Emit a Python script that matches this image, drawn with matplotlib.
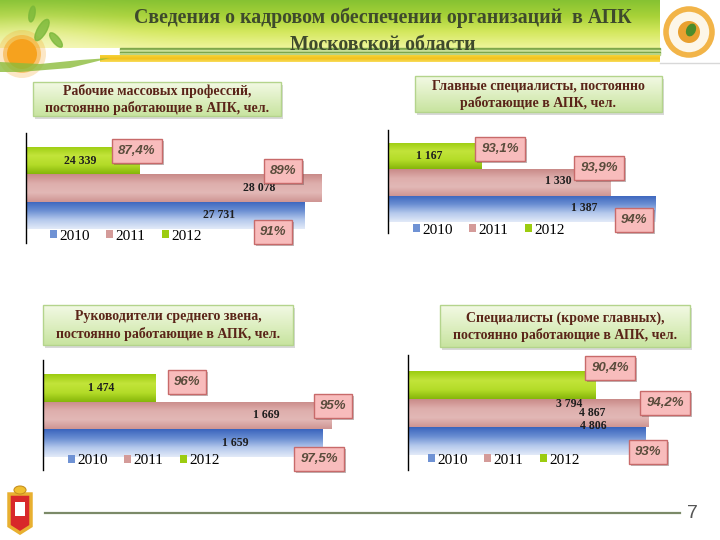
"""Slide: staffing of agro-industrial organisations, Moscow region (4 bar panels)."""

import numpy as np
import matplotlib

matplotlib.use("Agg")
import matplotlib.pyplot as plt  # noqa: E402
from matplotlib.colors import to_rgb  # noqa: E402
from matplotlib.patches import Rectangle, Circle, Ellipse, Patch, Polygon  # noqa: E402
import matplotlib.patheffects as pe  # noqa: E402

W, H = 720, 540

# ---- data -----------------------------------------------------------------
YEARS = ["2010", "2011", "2012"]
TITLE = "Сведения о кадровом обеспечении организаций  в АПК\nМосковской области"
PANEL_TITLES = [
    "Рабочие массовых профессий,\nпостоянно работающие в АПК, чел.",
    "Главные специалисты, постоянно\nработающие в АПК, чел.",
    "Руководители среднего звена,\nпостоянно работающие в АПК, чел.",
    "Специалисты (кроме главных),\nпостоянно работающие в АПК, чел.",
]
workers = [27731, 28078, 24339]
chief_specialists = [1387, 1330, 1167]
middle_managers = [1659, 1669, 1474]
specialists = [4806, 4867, 3794]
pct_workers = ["91%", "89%", "87,4%"]
pct_chief = ["94%", "93,9%", "93,1%"]
pct_middle = ["97,5%", "95%", "96%"]
pct_specialists = ["93%", "94,2%", "90,4%"]
PAGE_NO = "7"

# ---- layout (pixels of the 720x540 slide) ----------------------------------
LAYOUT = [
    dict(left=26, width=340, ax_top=133, ax_bot=243, bar_top=147, bar_bot=229,
         xlim=(22000, 29000), legend=(50, 236),
         lab_off=[(-85, 0), (-62, 0), (-59, 0)],
         pct_xy=[(273, 232), (283, 171), (137, 151)],
         box=(33, 82, 281, 116)),
    dict(left=388, width=318, ax_top=130, ax_bot=233, bar_top=143, bar_bot=222,
         xlim=(1050, 1450), legend=(413, 230),
         lab_off=[(-72, 1), (-52, 1), (-52, 0)],
         pct_xy=[(634, 220), (599, 168), (500, 149)],
         box=(415, 76, 662, 112)),
    dict(left=43, width=362, ax_top=360, ax_bot=470, bar_top=374, bar_bot=457,
         xlim=(1350, 1750), legend=(68, 461),
         lab_off=[(-87, 0), (-65, 0), (-54, 0)],
         pct_xy=[(319, 459), (333, 406), (187, 382)],
         box=(43, 305, 293, 345)),
    dict(left=408, width=297, ax_top=355, ax_bot=470, bar_top=371, bar_bot=455,
         xlim=(0, 6000), legend=(428, 460),
         lab_off=[(-53, 15), (-57, 0), (-27, -19)],
         pct_xy=[(648, 452), (665, 403), (610, 368)],
         box=(440, 305, 690, 347)),
]

# vertical colour stops per series (top -> bottom)
BAR_GRAD = {
    "2010": ["#3a64bd", "#6a8ed2", "#b4c8ec", "#e2eaf8"],
    "2011": ["#c98a88", "#deaeac", "#e2b8b6", "#cf9593"],
    "2012": ["#9ccc10", "#c2e43a", "#b4dc28", "#86b60a"],
}
LEGEND_COL = {"2010": "#6f92d4", "2011": "#d49b99", "2012": "#9ccc10"}

SERIF = ["Liberation Serif", "DejaVu Serif"]
SANS = ["Liberation Sans", "DejaVu Sans"]


def grad(stops, n=64):
    cols = np.array([to_rgb(c) for c in stops])
    pos = np.linspace(0, 1, len(cols))
    t = np.linspace(0, 1, n)
    return np.stack([np.interp(t, pos, cols[:, k]) for k in range(3)], axis=1)[:, None, :]


def px_rect(l, t, r, b):
    return [l / W, 1 - b / H, (r - l) / W, (b - t) / H]


fig = plt.figure(figsize=(7.2, 5.4), dpi=100)
fig.patch.set_facecolor("white")

# background overlay in pixel coordinates
bg = fig.add_axes([0, 0, 1, 1], zorder=0)
bg.set_xlim(0, W); bg.set_ylim(H, 0); bg.axis("off")

# header banner: green -> yellow vertical gradient with a light glow at left
ny, nx = 60, 200
vert = grad(["#86c232", "#a8d238", "#d4e85e", "#eef59a"], ny)[:, 0, :]
img = np.repeat(vert[:, None, :], nx, axis=1)
xx, yy = np.meshgrid(np.linspace(0, 660, nx), np.linspace(0, 48, ny))
glow = np.exp(-(((xx - 30) / 90) ** 2 + ((yy - 48) / 30) ** 2))[..., None]
img = img * (1 - 0.55 * glow) + 0.55 * glow * np.array(to_rgb("#fbf8d8"))
bg.imshow(img, extent=(0, 660, 48, 0), aspect="auto", zorder=1)
for y0, c in [(48, "#7ea84a"), (50, "#c9e09a"), (51.5, "#6e9a3e"), (53, "#b8d488")]:
    bg.add_patch(Rectangle((120, y0), 540, 1.6, color=c, zorder=2))
bg.imshow(grad(["#f6d23a", "#f3c11c", "#f8dc5a"], 16), extent=(100, 660, 62, 55),
          aspect="auto", zorder=2)
bg.plot([660, 720], [63, 63], color="#d8d8d8", lw=1, zorder=2)
# left decoration: sun, leaves and a grass swoosh
for r, a in [(24, 0.25), (19, 0.5), (15, 1.0)]:
    bg.add_patch(Circle((22, 54), r, color="#f6a21e", alpha=a, zorder=3, lw=0))
for (cx, cy, w_, h_, ang) in [(42, 30, 9, 24, 30), (56, 40, 7, 18, -40),
                              (32, 14, 6, 16, 10)]:
    bg.add_patch(Ellipse((cx, cy), w_, h_, angle=ang, color="#7ab83a", alpha=0.8, zorder=3))
bg.add_patch(Polygon([(0, 72), (0, 62), (40, 64), (80, 60), (110, 58), (70, 68), (20, 72)],
                     fc="#8cbc3c", ec="none", alpha=0.8, zorder=3))
# right logo
bg.add_patch(Circle((689, 32), 23, fc="#fdf6e8", ec="#f2b448", lw=4, zorder=3))
bg.add_patch(Circle((689, 32), 11, fc="#e9a030", ec="none", zorder=4))
bg.add_patch(Ellipse((691, 30), 8, 12, angle=25, color="#4c8c2c", zorder=5))

bg.text(383, 31, TITLE, ha="center", va="center", fontsize=14.3, fontweight="bold",
        family=SERIF, color="#3e4a2c", linespacing=1.5, zorder=6)

# footer
bg.plot([45, 680], [513, 513], color="#7b8a68", lw=1.6, zorder=2)
bg.text(692, 513, PAGE_NO, ha="center", va="center", fontsize=14,
        family=SANS, color="#555555")
bg.add_patch(Polygon([(9, 494), (31, 494), (31, 526), (20, 533), (9, 526)],
                     fc="#d8282a", ec="#e8b030", lw=2.5, zorder=3))
bg.add_patch(Ellipse((20, 490), 12, 8, fc="#f0c030", ec="#c89020", lw=0.8, zorder=4))
bg.add_patch(Rectangle((15, 502), 10, 14, fc="white", ec="none", zorder=4))

# panel title boxes
for (l, t, r, b), txt in zip([d["box"] for d in LAYOUT], PANEL_TITLES):
    bg.add_patch(Rectangle((l + 2, t + 3), r - l, b - t, fc="#bfbfbf", ec="none",
                           alpha=0.6, zorder=3))
    frame = Rectangle((l, t), r - l, b - t, fc="none", ec="#b4d48c", lw=1, zorder=5)
    bg.add_patch(frame)
    im = bg.imshow(grad(["#f2f9e4", "#deefc2", "#c8e4a0"], 32),
                   extent=(l, r, b, t), aspect="auto", zorder=4)
    im.set_clip_path(frame)
    bg.text((l + r) / 2, (t + b) / 2 + 0.5, txt, ha="center", va="center",
            fontsize=10, fontweight="bold", family=SERIF, color="#5a2418",
            linespacing=1.3, zorder=6)
bg.set_xlim(0, W); bg.set_ylim(H, 0)

# ---- charts -----------------------------------------------------------------
series = [workers, chief_specialists, middle_managers, specialists]
pcts = [pct_workers, pct_chief, pct_middle, pct_specialists]

fg = fig.add_axes([0, 0, 1, 1], zorder=20)
fg.set_xlim(0, W); fg.set_ylim(H, 0); fg.axis("off"); fg.patch.set_alpha(0)

for vals, pct, lay in zip(series, pcts, LAYOUT):
    ax = fig.add_axes(px_rect(lay["left"], lay["ax_top"],
                              lay["left"] + lay["width"], lay["ax_bot"]), zorder=10)
    ax.patch.set_alpha(0)
    xmin = lay["xlim"][0]
    unit = (lay["bar_bot"] - lay["bar_top"]) / 3
    y0 = lay["bar_bot"] - unit / 2
    ypos = np.arange(len(YEARS))
    # bars start at the axis minimum (value axis does not begin at zero)
    bars = ax.barh(ypos, np.array(vals) - xmin, height=1.0, left=xmin,
                   color=[LEGEND_COL[y] for y in YEARS], lw=0)
    for bar, yr in zip(bars, YEARS):
        x, y, w_, h_ = bar.get_x(), bar.get_y(), bar.get_width(), bar.get_height()
        g = ax.imshow(grad(BAR_GRAD[yr]), extent=(x, x + w_, y, y + h_),
                      aspect="auto", zorder=2, interpolation="bilinear")
        g.set_clip_path(bar)
    for v, yy_, (dx, dy) in zip(vals, ypos, lay["lab_off"]):
        ax.annotate(f"{v:,}".replace(",", " "), xy=(v, yy_), xytext=(dx, dy),
                    textcoords="offset pixels", ha="center", va="center",
                    fontsize=8.5, fontweight="bold", family=SERIF, color="#1e1e1e",
                    zorder=5)
    ax.set_xlim(*lay["xlim"])
    ax.set_ylim((y0 - lay["ax_bot"]) / unit, (y0 - lay["ax_top"]) / unit)
    for s in ("top", "right", "bottom"):
        ax.spines[s].set_visible(False)
    ax.spines["left"].set_color("black")
    ax.spines["left"].set_linewidth(1.0)
    ax.set_xticks([]); ax.set_yticks([])

    handles = [Patch(fc=LEGEND_COL[y], ec="none", label=y) for y in YEARS]
    lx, ly = lay["legend"]
    leg = fig.legend(handles=handles, loc="center left", ncol=3, frameon=False,
                     bbox_to_anchor=(lx / W, 1 - ly / H), borderaxespad=0, borderpad=0,
                     handlelength=0.45, handleheight=0.45, handletextpad=0.15,
                     columnspacing=1.1, prop={"family": SERIF, "size": 11})
    leg.set_zorder(15)

    for txt, (cx, cy) in zip(pct, lay["pct_xy"]):
        t = fg.text(cx, cy, txt, ha="center", va="center", fontsize=9.5,
                    fontweight="bold", fontstyle="italic", family=SANS,
                    color="#5a4c3c", zorder=30,
                    bbox=dict(boxstyle="square,pad=0.45", fc="#f8bcbc",
                              ec="#c86a6a", lw=1.0))
        t.get_bbox_patch().set_path_effects(
            [pe.SimplePatchShadow(offset=(1.5, -1.5), alpha=0.35), pe.Normal()])

fig.savefig("out.png", dpi=100)
